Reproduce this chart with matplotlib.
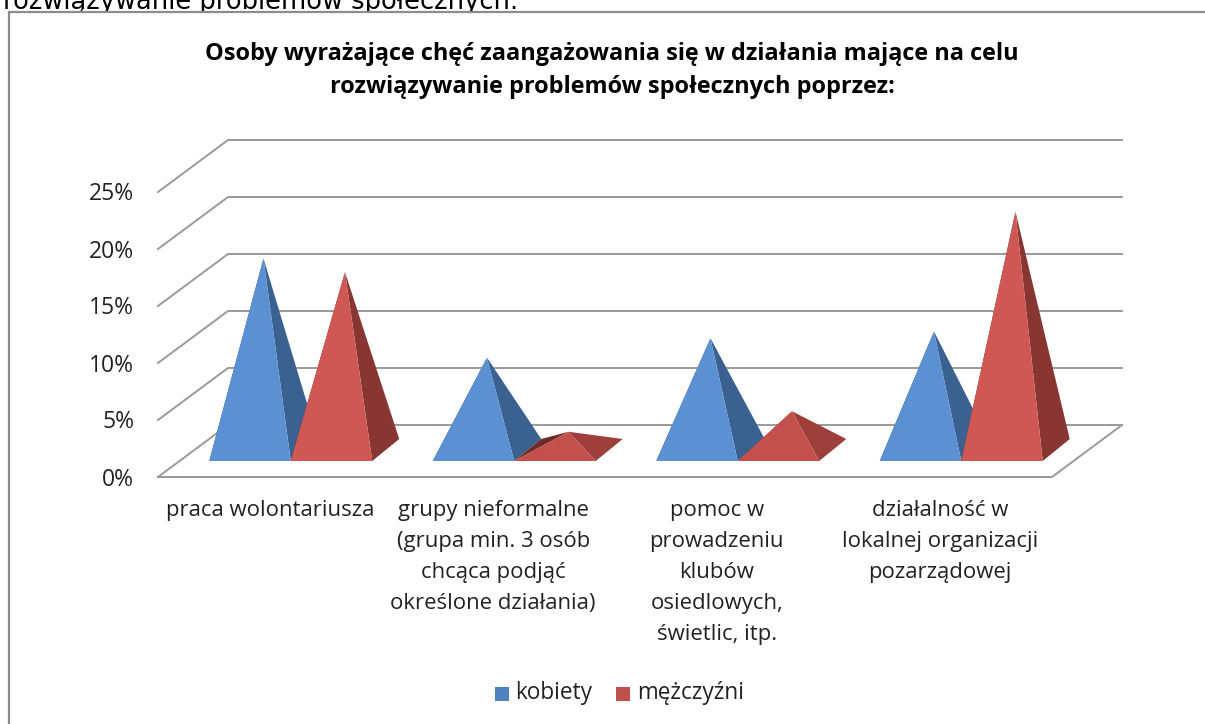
import matplotlib
matplotlib.use('Agg')
import matplotlib.pyplot as plt
from matplotlib.patches import Polygon, Rectangle

# Data (percent)
categories = ['praca wolontariusza',
              'grupy nieformalne\n(grupa min. 3 osób\nchcąca podjąć\nokreślone działania)',
              'pomoc w\nprowadzeniu\nklubów\nosiedlowych,\nświetlic, itp.',
              'działalność w\nlokalnej organizacji\npozarządowej']
kobiety = [16.8, 8.1, 9.8, 10.4]
mezczyzni = [15.6, 1.6, 3.4, 20.9]
ticks = [0, 5, 10, 15, 20, 25]
title = 'Osoby wyrażające chęć zaangażowania się w działania mające na celu\nrozwiązywanie problemów społecznych poprzez:'
cut_text = 'rozwiązywanie problemów społecznych.'

FONT = 'Open Sans'
GRID = '#9a9a9a'
BLUE = ('#5b90d2', '#3b6190', '#2f4f78')
RED = ('#cf5854', '#883632', '#6e2a27')
RED_LOW = ('#c4504d', '#9e3f3c', '#6e2a27')

# pixel geometry of the oblique chart box
FLOOR_Y = 477
PX_PER_PCT = 57 / 5
LEFT, RIGHT = 158, 1052
DEPTH_X, DEPTH_Y = 70, 52
BAR_W = 81.5
BAR_DX, BAR_DY = 27, 22
BASE_Y = 461


def val_y(v):
    return FLOOR_Y - v * PX_PER_PCT


def pyramid(ax, x0, value, colors):
    x1 = x0 + BAR_W
    cx = (x0 + x1) / 2 + BAR_DX / 2
    cy = BASE_Y - BAR_DY / 2
    apex = (cx, cy - value * PX_PER_PCT)
    ax.add_patch(Polygon([(x0, BASE_Y), (x0 + BAR_DX, BASE_Y - BAR_DY), apex], fc=colors[2], ec='none', zorder=3))
    ax.add_patch(Polygon([(x1, BASE_Y), (x1 + BAR_DX, BASE_Y - BAR_DY), apex], fc=colors[1], ec='none', zorder=3))
    ax.add_patch(Polygon([(x0, BASE_Y), (x1, BASE_Y), apex], fc=colors[0], ec='none', zorder=3))


fig = plt.figure(figsize=(12.05, 7.24), dpi=100)
ax = fig.add_axes([0, 0, 1, 1])
ax.set_xlim(0, 1205)
ax.set_ylim(724, 0)
ax.axis('off')

# page text cut by the chart frame
ax.text(3, 9, cut_text, fontsize=18.5, family='DejaVu Sans', color='black', va='baseline', ha='left', zorder=1)
ax.add_patch(Rectangle((9, 12), 1300, 800, fc='white', ec='#8c8c8c', lw=1.6, zorder=2))

# walls and floor
for t in ticks:
    y = val_y(t)
    ax.plot([LEFT, LEFT + DEPTH_X, RIGHT + DEPTH_X], [y, y - DEPTH_Y, y - DEPTH_Y], color=GRID, lw=1.4, zorder=2.5)
    ax.text(134, y + 2.5, f'{t}%', fontsize=16.5, family=FONT, color='#222222', ha='right', va='center', zorder=4)
ax.plot([LEFT, RIGHT, RIGHT + DEPTH_X], [FLOOR_Y, FLOOR_Y, FLOOR_Y - DEPTH_Y], color=GRID, lw=1.4, zorder=2.5)

# pyramids
step = (RIGHT - LEFT) / len(categories)
for i, cat in enumerate(categories):
    mid = LEFT + step * (i + 0.5) + 21
    pyramid(ax, mid - BAR_W, kobiety[i], BLUE)
    pyramid(ax, mid, mezczyzni[i], RED_LOW if mezczyzni[i] < 5 else RED)
    ax.text(LEFT + step * (i + 0.5), 500, cat, fontsize=15.9, family=FONT, color='#222222',
            ha='center', va='top', linespacing=1.63, zorder=4)

ax.text(612, 70.5, title, fontsize=16.9, family=FONT, weight='bold', color='black',
        ha='center', va='center', linespacing=1.55, zorder=4)

# legend
ax.add_patch(Rectangle((495, 687), 13.5, 14, fc='#4f81bd', ec='none', zorder=4))
ax.text(515, 693, 'kobiety', fontsize=16.3, family=FONT, color='#222222', va='center', zorder=4)
ax.add_patch(Rectangle((616, 687), 14, 14, fc='#c0504d', ec='none', zorder=4))
ax.text(637, 693, 'mężczyźni', fontsize=16.3, family=FONT, color='#222222', va='center', zorder=4)

fig.savefig('out.png', dpi=100)
